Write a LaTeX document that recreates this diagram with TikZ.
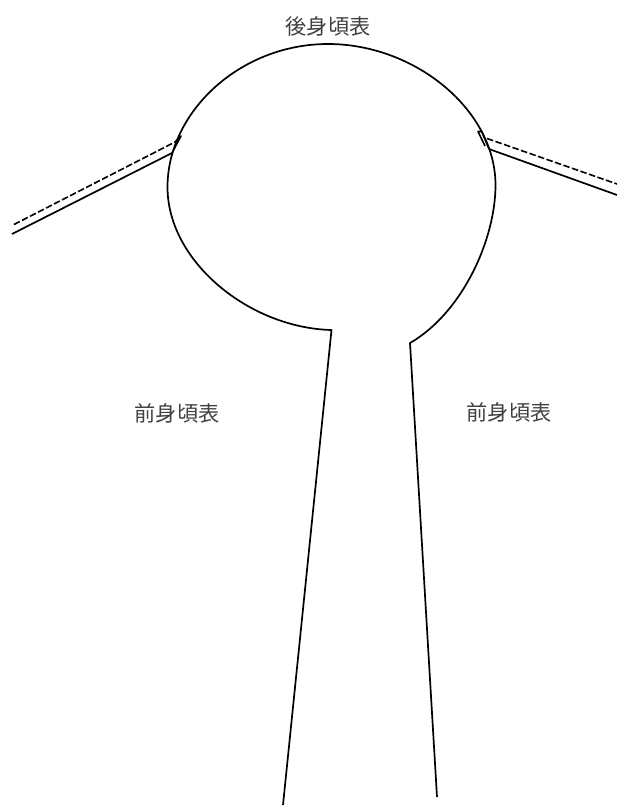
\documentclass[tikz,border=0pt]{standalone}
\usepackage{fontspec}
\usepackage{tikz}
\usetikzlibrary{positioning}
\newfontfamily\cjk{Noto Sans CJK JP}

\begin{document}
\begin{tikzpicture}[
        x=1pt, y=-1pt,
        every node/.style={font=\cjk\fontsize{21.2}{24}\selectfont, text=black!75, inner sep=0pt},
        seam/.style={draw=black, line width=1.7pt, line join=round},
        notch/.style={draw=black, line width=1.6pt, line join=round},
        foldline/.style={draw=black, line width=1.6pt, dash pattern=on 6.5pt off 2.5pt}
    ]
    \useasboundingbox (0,0) rectangle (617,809);

    % Labels
    \node (back) at (328,26) {後身頃表};
    \node (frontleft) at (177,413) {前身頃表};
    \node (frontright) at (509,412) {前身頃表};

    % Neck and front edges
    \path[seam] (283,805) -- (331.5,330)
        .. controls (250,328) and (167.5,262) .. (167.5,187)
        .. controls (167.5,112) and (240,44) .. (328,44)
        .. controls (415,44) and (495.5,110) .. (495.5,185)
        .. controls (495.5,240) and (462,313) .. (410,343)
        -- (437,797);

    % Shoulder, left
    \path[seam] (12,234) -- (172,153);
    \path[foldline] (14,224.5) -- (175,142);
    \path[notch] (175,142) -- (181,136) -- (172,153);

    % Shoulder, right
    \path[seam] (489,149) -- (617,195);
    \path[foldline] (487,138.5) -- (617,184);
    \path[notch] (489,149) -- (481.7,131.5) -- (478,131.5) -- (485,146);
\end{tikzpicture}
\end{document}
